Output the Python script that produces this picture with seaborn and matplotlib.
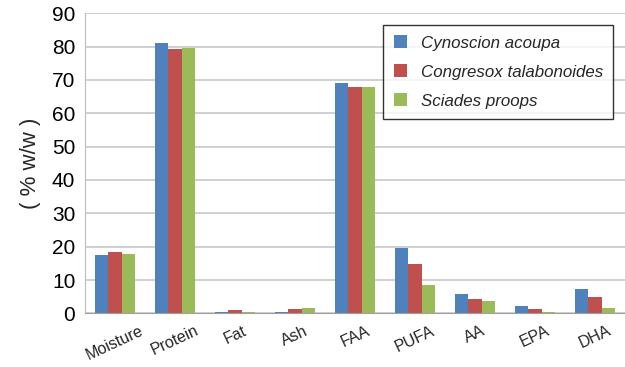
import matplotlib
matplotlib.use("Agg")
import matplotlib.pyplot as plt
import seaborn as sns
import pandas as pd
import numpy as np

categories = ["Moisture", "Protein", "Fat", "Ash", "FAA", "PUFA", "AA", "EPA", "DHA"]
species = ["Cynoscion acoupa", "Congresox talabonoides", "Sciades proops"]
cynoscion = [17.5, 81.2, 0.3, 0.5, 69.0, 19.5, 5.8, 2.3, 7.2]
congresox = [18.3, 79.2, 0.9, 1.3, 67.8, 14.8, 4.3, 1.3, 5.0]
sciades = [17.7, 79.7, 0.5, 1.7, 67.8, 8.5, 3.8, 0.3, 1.5]
y_ticks = [0, 10, 20, 30, 40, 50, 60, 70, 80, 90]
colors = ["#4F81BD", "#C0504D", "#9BBB59"]

df = pd.DataFrame({
    "category": categories * 3,
    "species": [species[0]] * 9 + [species[1]] * 9 + [species[2]] * 9,
    "value": cynoscion + congresox + sciades,
})

sns.set_style("white")
plt.rcParams["font.family"] = ["Liberation Sans", "DejaVu Sans"]

fig = plt.figure(figsize=(6.25, 3.67), dpi=100)
ax = fig.add_axes([0.136, 0.146, 0.864, 0.818])

sns.barplot(data=df, x="category", y="value", hue="species", order=categories,
            hue_order=species, palette=colors, width=0.67, gap=0,
            saturation=1, edgecolor="none", linewidth=0, ax=ax, legend=True)

ax.set_ylim(0, 90)
ax.set_xlim(-0.5, len(categories) - 0.5)
ax.set_yticks(y_ticks)
ax.yaxis.grid(True, color="#C4C4C4", linewidth=1.1)
ax.set_axisbelow(True)
for s in ["top", "right"]:
    ax.spines[s].set_visible(False)
ax.spines["left"].set_color("#BDBDBD")
ax.spines["bottom"].set_color("#A0A0A0")
ax.tick_params(axis="y", length=0, labelsize=15, pad=7, colors="#000000")
ax.tick_params(axis="x", which="major", length=0, labelsize=11.5, pad=7)
ax.set_xticks(np.arange(-0.5, len(categories), 1.0), minor=True)
ax.tick_params(axis="x", which="minor", length=4, color="#A0A0A0")
for lab in ax.get_xticklabels():
    lab.set_rotation(25)
    lab.set_ha("center")
ax.set_xlabel("")
ax.set_ylabel("( % w/w )", fontsize=16, labelpad=8)

leg = ax.legend(loc="upper left", bbox_to_anchor=(0.613, 0.932),
                bbox_transform=fig.transFigure, borderaxespad=0,
                frameon=True, fancybox=False, edgecolor="#000000",
                prop={"style": "italic", "size": 12.2},
                handlelength=0.8, handleheight=0.8, handletextpad=0.8,
                labelspacing=0.8, borderpad=0.62, title=None)
leg.get_frame().set_linewidth(1.0)

fig.savefig("out.png", dpi=100)
